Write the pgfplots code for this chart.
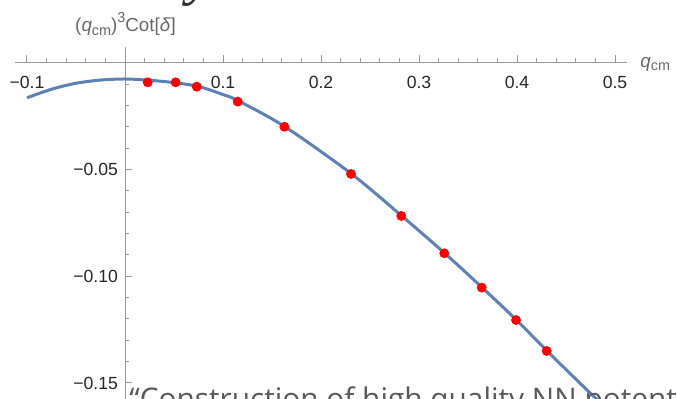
\documentclass[border=0pt]{standalone}
\usepackage{pgfplots}
\pgfplotsset{compat=1.18}
\usepackage{fontspec}
\setmainfont{Liberation Sans}
\newfontfamily\slidefont{Open Sans}
\newfontfamily\serifit{Liberation Serif}
\definecolor{mblue}{rgb}{0.368417,0.506779,0.709798}
\definecolor{axgray}{gray}{0.6}
\definecolor{lblgray}{gray}{0.4}
\definecolor{txtgray}{gray}{0.35}
\newcommand\sub[1]{\raisebox{-0.35ex}{\fontsize{7.2}{8}\selectfont #1}}
\newcommand\sups[1]{\raisebox{0.9ex}{\fontsize{7.2}{8}\selectfont #1}}
\begin{document}
\begin{tikzpicture}
\begin{axis}[
  scale only axis, width=306pt, height=176pt,
  xmin=-0.1122, xmax=0.5122, ymin=-0.1575, ymax=0.0075,
  axis lines=middle,
  axis line style={-, axgray, line width=0.5pt},
  clip=false,
  xtick={-0.1,0.1,0.2,0.3,0.4,0.5},
  xticklabels={−0.1,0.1,0.2,0.3,0.4,0.5},
  minor xtick={-0.08,-0.06,-0.04,-0.02,0.02,0.04,0.06,0.08,0.12,0.14,0.16,0.18,0.22,0.24,0.26,0.28,0.32,0.34,0.36,0.38,0.42,0.44,0.46,0.48},
  ytick={-0.15,-0.10,-0.05},
  yticklabels={−0.15,−0.10,−0.05},
  minor ytick={-0.01,-0.02,-0.03,-0.04,-0.06,-0.07,-0.08,-0.09,-0.11,-0.12,-0.13,-0.14},
  tick align=inside,
  major tick length=3.75pt, minor tick length=2.25pt,
  tick style={axgray, line width=0.5pt},
  ticklabel style={font=\fontsize{8.8}{10}\selectfont, text=black!85},
  xticklabel style={yshift=-3pt},
]
\addplot[mblue, line width=1.5pt, smooth] table {
x y
-0.1 -0.0163
-0.075 -0.0123
-0.05 -0.0095
-0.025 -0.0080
0 -0.0075
0.025 -0.0081
0.05 -0.0092
0.075 -0.0110
0.1 -0.0148
0.115 -0.0176
0.1626 -0.0297
0.2306 -0.0518
0.2819 -0.0715
0.3258 -0.0890
0.364 -0.1051
0.399 -0.1203
0.4303 -0.1348
0.46 -0.1482
0.49 -0.1615
};
\addplot[only marks, mark=*, mark size=2.25pt, draw=red, fill=red] table {
x y
0.0232 -0.00905
0.0517 -0.00905
0.0732 -0.0111
0.1150 -0.0181
0.1626 -0.0299
0.2306 -0.0520
0.2819 -0.0717
0.3258 -0.0892
0.3640 -0.1053
0.3990 -0.1205
0.4303 -0.1350
};
\node[anchor=base west, inner sep=0pt, text=lblgray, font=\fontsize{9.4}{10}\selectfont] at (axis cs:0.5122,-0.0019) [xshift=6.5pt] {\textit{q}\sub{cm}};
\node[anchor=base, inner sep=0pt, text=lblgray, font=\fontsize{9.4}{10}\selectfont] at (axis cs:0.0005,0.01467) {(\textit{q}\sub{cm})\sups{3}Cot[\textit{δ}]};
\node[anchor=base west, inner sep=0pt, text=txtgray, font=\slidefont\fontsize{14.9}{16}\selectfont] at (axis cs:0.0041,-0.1623) {“Construction of high quality NN potentials};
\node[anchor=base, inner sep=0pt, text=black!80, font=\serifit\itshape\fontsize{30}{32}\selectfont] at (axis cs:0.0775,0.0327) {y};
\coordinate (TL) at (axis cs:-0.12755,0.029536);
\coordinate (BR) at (axis cs:0.56327,-0.15752);
\end{axis}
\pgfresetboundingbox
\useasboundingbox (TL) rectangle (BR);
\end{tikzpicture}
\end{document}
